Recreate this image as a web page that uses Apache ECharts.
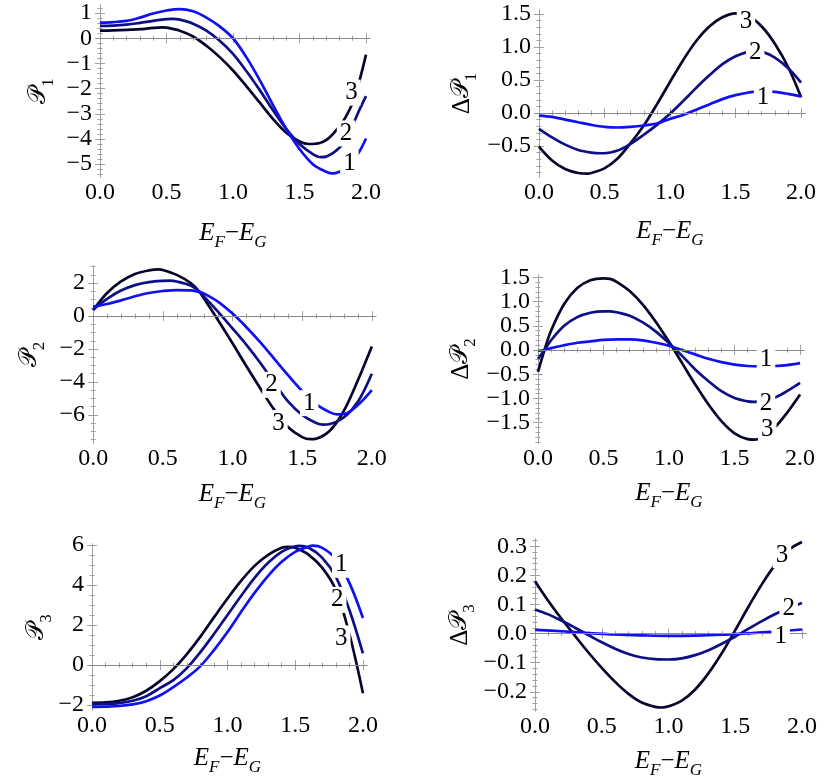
<!DOCTYPE html>
<html><head><meta charset="utf-8">
<script src="https://cdn.jsdelivr.net/npm/echarts@6/dist/echarts.min.js"></script>
<style>html,body{margin:0;padding:0;background:#fff}#c{width:830px;height:782px}</style>
</head><body><div id="c"></div>
<script>
// ---------------- data ----------------
const curveNames = ['1', '2', '3'];
const xTicks = [0, 0.5, 1, 1.5, 2];

// Panel 1 : P1
const P1_c1 = [[0,0.62],[0.1,0.64],[0.2,0.69],[0.3,0.82],[0.4,0.98],[0.5,1.1],[0.6,1.16],[0.7,1.07],[0.8,0.82],[0.9,0.47],[1.0,0.0],[1.1,-0.75],[1.2,-1.65],[1.3,-2.65],[1.4,-3.6],[1.5,-4.4],[1.6,-5.0],[1.7,-5.3],[1.75,-5.37],[1.8,-5.3],[1.85,-5.15],[1.9,-4.85],[1.95,-4.5],[2.0,-3.98]];
const P1_c2 = [[0,0.49],[0.1,0.5],[0.2,0.54],[0.3,0.61],[0.4,0.69],[0.5,0.76],[0.55,0.77],[0.6,0.74],[0.7,0.58],[0.8,0.3],[0.9,-0.1],[1.0,-0.62],[1.1,-1.3],[1.2,-2.05],[1.3,-2.85],[1.4,-3.6],[1.5,-4.2],[1.6,-4.6],[1.66,-4.72],[1.7,-4.7],[1.8,-4.35],[1.85,-3.95],[1.9,-3.45],[1.95,-2.85],[2.0,-2.3]];
const P1_c3 = [[0,0.3],[0.1,0.31],[0.2,0.33],[0.3,0.36],[0.4,0.41],[0.47,0.43],[0.5,0.42],[0.6,0.3],[0.7,0.07],[0.8,-0.3],[0.9,-0.75],[1.0,-1.28],[1.1,-1.9],[1.2,-2.55],[1.3,-3.2],[1.4,-3.75],[1.5,-4.1],[1.57,-4.2],[1.6,-4.2],[1.7,-4.05],[1.8,-3.5],[1.85,-3.1],[1.9,-2.55],[1.95,-1.7],[2.0,-0.65]];
const P1_labels = [[1.875,-4.98],[1.85,-3.78],[1.89,-2.16]];
const P1_yTicks = [1,0,-1,-2,-3,-4,-5];

// Panel 2 : ΔP1
const P2_c1 = [[0,-0.04],[0.1,-0.06],[0.2,-0.1],[0.3,-0.14],[0.4,-0.18],[0.5,-0.21],[0.6,-0.22],[0.7,-0.21],[0.8,-0.19],[0.9,-0.16],[1.0,-0.09],[1.1,-0.03],[1.2,0.05],[1.3,0.13],[1.4,0.21],[1.5,0.27],[1.6,0.31],[1.7,0.33],[1.8,0.32],[1.9,0.29],[2.0,0.25]];
const P2_c2 = [[0,-0.24],[0.1,-0.37],[0.2,-0.48],[0.3,-0.56],[0.4,-0.6],[0.47,-0.61],[0.5,-0.61],[0.6,-0.57],[0.69,-0.48],[0.8,-0.33],[0.9,-0.18],[1.0,-0.01],[1.1,0.18],[1.2,0.38],[1.3,0.57],[1.4,0.74],[1.5,0.86],[1.6,0.93],[1.65,0.94],[1.7,0.93],[1.8,0.84],[1.9,0.68],[2.0,0.46]];
const P2_c3 = [[0,-0.51],[0.1,-0.72],[0.2,-0.85],[0.3,-0.91],[0.37,-0.92],[0.4,-0.91],[0.5,-0.84],[0.6,-0.69],[0.69,-0.48],[0.8,-0.19],[0.9,0.13],[1.0,0.47],[1.1,0.8],[1.2,1.09],[1.3,1.31],[1.4,1.45],[1.5,1.51],[1.6,1.47],[1.7,1.31],[1.8,1.05],[1.9,0.7],[2.0,0.24]];
const P2_labels = [[1.71,0.23],[1.65,0.91],[1.58,1.38]];
const P2_yTicks = [1.5,1.0,0.5,0.0,-0.5];

// Panel 3 : P2
const P3_c1 = [[0,0.57],[0.1,0.73],[0.2,0.95],[0.3,1.2],[0.4,1.4],[0.5,1.52],[0.6,1.58],[0.7,1.56],[0.76,1.47],[0.8,1.35],[0.9,0.85],[1.0,0.15],[1.1,-0.68],[1.2,-1.6],[1.3,-2.6],[1.4,-3.6],[1.5,-4.55],[1.6,-5.35],[1.7,-5.85],[1.75,-5.97],[1.8,-5.95],[1.9,-5.4],[2.0,-4.5]];
const P3_c2 = [[0,0.4],[0.1,1.05],[0.2,1.55],[0.3,1.88],[0.4,2.06],[0.5,2.14],[0.55,2.15],[0.6,2.1],[0.7,1.85],[0.76,1.5],[0.8,1.15],[0.9,0.22],[1.0,-0.75],[1.1,-1.75],[1.2,-2.85],[1.3,-4.05],[1.4,-5.2],[1.5,-6.0],[1.6,-6.5],[1.65,-6.6],[1.7,-6.56],[1.8,-6.15],[1.9,-5.2],[2.0,-3.5]];
const P3_c3 = [[0,0.36],[0.1,1.4],[0.2,2.1],[0.3,2.55],[0.4,2.77],[0.47,2.83],[0.5,2.8],[0.6,2.5],[0.7,2.0],[0.76,1.5],[0.8,1.0],[0.9,-0.3],[1.0,-1.65],[1.1,-3.05],[1.2,-4.4],[1.3,-5.7],[1.4,-6.75],[1.5,-7.35],[1.56,-7.48],[1.6,-7.45],[1.7,-6.95],[1.8,-5.75],[1.9,-3.9],[2.0,-1.85]];
const P3_labels = [[1.55,-5.29],[1.28,-4.18],[1.33,-6.5]];
const P3_yTicks = [2,0,-2,-4,-6];

// Panel 4 : ΔP2
const P4_c1 = [[0,-0.02],[0.05,0.0],[0.1,0.04],[0.2,0.1],[0.3,0.15],[0.4,0.18],[0.5,0.21],[0.6,0.22],[0.7,0.22],[0.8,0.2],[0.9,0.15],[1.0,0.09],[1.1,0.0],[1.2,-0.09],[1.3,-0.18],[1.4,-0.25],[1.5,-0.3],[1.6,-0.33],[1.7,-0.34],[1.8,-0.33],[1.9,-0.31],[2.0,-0.27]];
const P4_c2 = [[0,-0.18],[0.05,0.0],[0.1,0.2],[0.2,0.5],[0.3,0.68],[0.4,0.77],[0.5,0.8],[0.55,0.8],[0.6,0.78],[0.7,0.71],[0.8,0.57],[0.9,0.38],[1.0,0.14],[1.1,-0.12],[1.2,-0.4],[1.3,-0.64],[1.4,-0.85],[1.5,-0.99],[1.6,-1.06],[1.65,-1.07],[1.7,-1.06],[1.8,-0.99],[1.9,-0.85],[2.0,-0.68]];
const P4_c3 = [[0,-0.45],[0.05,0.0],[0.1,0.4],[0.2,0.95],[0.3,1.28],[0.4,1.44],[0.5,1.48],[0.55,1.47],[0.6,1.41],[0.7,1.22],[0.8,0.94],[0.9,0.58],[1.0,0.17],[1.1,-0.27],[1.2,-0.71],[1.3,-1.12],[1.4,-1.47],[1.5,-1.72],[1.6,-1.84],[1.65,-1.85],[1.7,-1.83],[1.8,-1.62],[1.9,-1.3],[2.0,-0.92]];
const P4_labels = [[1.74,-0.19],[1.74,-1.11],[1.75,-1.64]];
const P4_yTicks = [1.5,1.0,0.5,0.0,-0.5,-1.0,-1.5];

// Panel 5 : P3
const P5_c1 = [[0,-2.08],[0.1,-2.07],[0.2,-2.04],[0.3,-1.96],[0.4,-1.8],[0.5,-1.52],[0.6,-1.1],[0.7,-0.62],[0.8,-0.05],[0.9,0.75],[1.0,1.65],[1.1,2.65],[1.2,3.6],[1.3,4.45],[1.4,5.15],[1.5,5.65],[1.6,5.92],[1.63,5.96],[1.7,5.85],[1.8,5.3],[1.9,4.1],[2.0,2.35]];
const P5_c2 = [[0,-1.95],[0.1,-1.94],[0.2,-1.9],[0.3,-1.78],[0.4,-1.55],[0.5,-1.15],[0.6,-0.75],[0.7,-0.15],[0.8,0.65],[0.9,1.55],[1.0,2.5],[1.1,3.45],[1.2,4.35],[1.3,5.1],[1.4,5.65],[1.5,5.93],[1.53,5.95],[1.6,5.85],[1.7,5.35],[1.8,4.4],[1.9,2.75],[2.0,0.58]];
const P5_c3 = [[0,-1.88],[0.1,-1.86],[0.2,-1.78],[0.3,-1.6],[0.4,-1.28],[0.5,-0.8],[0.6,-0.2],[0.7,0.55],[0.8,1.42],[0.9,2.38],[1.0,3.32],[1.1,4.2],[1.2,4.95],[1.3,5.5],[1.4,5.85],[1.45,5.9],[1.5,5.85],[1.6,5.5],[1.7,4.85],[1.8,3.75],[1.9,1.55],[2.0,-1.4]];
const P5_labels = [[1.84,5.0],[1.81,3.25],[1.84,1.33]];
const P5_yTicks = [6,4,2,0,-2];

// Panel 6 : ΔP3
const P6_c1 = [[0,0.013],[0.2,0.008],[0.4,0.002],[0.6,-0.003],[0.8,-0.006],[1.0,-0.008],[1.2,-0.007],[1.4,-0.004],[1.6,0.001],[1.8,0.007],[2.0,0.014]];
const P6_c2 = [[0,0.083],[0.1,0.066],[0.2,0.044],[0.3,0.02],[0.4,-0.005],[0.5,-0.03],[0.6,-0.052],[0.7,-0.07],[0.8,-0.082],[0.9,-0.088],[1.0,-0.089],[1.1,-0.085],[1.2,-0.074],[1.3,-0.057],[1.4,-0.035],[1.5,-0.01],[1.6,0.017],[1.7,0.043],[1.8,0.067],[1.9,0.088],[2.0,0.105]];
const P6_c3 = [[0,0.18],[0.1,0.112],[0.2,0.05],[0.3,-0.008],[0.4,-0.065],[0.5,-0.118],[0.6,-0.166],[0.7,-0.207],[0.8,-0.237],[0.9,-0.252],[0.95,-0.254],[1.0,-0.25],[1.1,-0.23],[1.2,-0.192],[1.3,-0.136],[1.4,-0.067],[1.5,0.012],[1.6,0.093],[1.7,0.17],[1.8,0.237],[1.9,0.288],[2.0,0.315]];
const P6_labels = [[1.84,-0.011],[1.9,0.086],[1.85,0.27]];
const P6_yTicks = [0.3,0.2,0.1,0.0,-0.1,-0.2];

// ---------------- style / layout ----------------
const FONT = '"Liberation Serif", "Times New Roman", serif';
const COLORS = ['#1010f2', '#0e0e86', '#06062e'];
const FRAME = '#a0a0a0';
const XRANGE = [-0.03, 2.03];

const panels = [
  {curves:[P1_c1,P1_c2,P1_c3], labels:P1_labels, yTicks:P1_yTicks, yDec:0, yMinor:0.2, yRange:[-5.51,1.32], delta:false, sub:'1',
   grid:{left:96, top:5, width:274, height:172}, yGap:43, xGap:44},
  {curves:[P2_c1,P2_c2,P2_c3], labels:P2_labels, yTicks:P2_yTicks, yDec:1, yMinor:0.1, yRange:[-0.97,1.56], delta:true, sub:'1',
   grid:{left:535, top:10, width:270, height:167}, yGap:59, xGap:42},
  {curves:[P3_c1,P3_c2,P3_c3], labels:P3_labels, yTicks:P3_yTicks, yDec:0, yMinor:0.5, yRange:[-7.71,3.04], delta:false, sub:'2',
   grid:{left:89, top:266, width:287, height:177}, yGap:45, xGap:39},
  {curves:[P4_c1,P4_c2,P4_c3], labels:P4_labels, yTicks:P4_yTicks, yDec:1, yMinor:0.1, yRange:[-1.92,1.55], delta:true, sub:'2',
   grid:{left:534, top:275, width:270, height:168}, yGap:59, xGap:38},
  {curves:[P5_c1,P5_c2,P5_c3], labels:P5_labels, yTicks:P5_yTicks, yDec:0, yMinor:0.5, yRange:[-2.24,6.04], delta:false, sub:'3',
   grid:{left:88, top:544, width:279, height:166}, yGap:37, xGap:36},
  {curves:[P6_c1,P6_c2,P6_c3], labels:P6_labels, yTicks:P6_yTicks, yDec:1, yMinor:0.02, yRange:[-0.266,0.325], delta:true, sub:'3',
   grid:{left:531, top:539, width:275, height:172}, yGap:57, xGap:38}
];

function minorVals(range, step, majors) {
  const out = [];
  const start = Math.ceil(range[0] / step - 1e-9);
  const end = Math.floor(range[1] / step + 1e-9);
  for (let k = start; k <= end; k++) {
    const v = Math.round(k * step * 1e6) / 1e6;
    if (!majors.some(m => Math.abs(m - v) < 1e-9)) out.push(v);
  }
  return out;
}
function fmt(v, dec) {
  const s = Math.abs(v) < 1e-12 ? (0).toFixed(dec) : v.toFixed(dec);
  return s.replace('-', '\u2212');
}

const rich = {
  i: {fontFamily: FONT, fontStyle: 'italic', fontSize: 25, lineHeight: 26, verticalAlign: 'top', color: '#000'},
  r: {fontFamily: FONT, fontSize: 25, lineHeight: 26, verticalAlign: 'top', color: '#000'},
  p: {fontFamily: '"DejaVu Serif", serif', fontSize: 24, lineHeight: 26, verticalAlign: 'top', color: '#000'},
  s: {fontFamily: FONT, fontStyle: 'italic', fontSize: 17, lineHeight: 17, padding: [13, 0, 0, 0], verticalAlign: 'top', color: '#000'},
  n: {fontFamily: FONT, fontSize: 17, lineHeight: 17, padding: [13, 0, 0, 0], verticalAlign: 'top', color: '#000'}
};

const option = {animation: false, backgroundColor: '#fff', grid: [], xAxis: [], yAxis: [], series: []};

panels.forEach((P, gi) => {
  option.grid.push(Object.assign({containLabel: false}, P.grid));
  const xb = option.xAxis.length, yb = option.yAxis.length;
  const xMinor = minorVals(XRANGE, 0.1, xTicks);
  const yMinor = minorVals(P.yRange, P.yMinor, P.yTicks);
  const line = {show: true, lineStyle: {color: FRAME, width: 1}};
  const tickStyle = {color: FRAME, width: 1};
  const baseX = {gridIndex: gi, type: 'value', min: XRANGE[0], max: XRANGE[1], splitLine: {show: false}};
  const baseY = {gridIndex: gi, type: 'value', min: P.yRange[0], max: P.yRange[1], splitLine: {show: false}};
  // x axes
  option.xAxis.push(Object.assign({}, baseX, {
    position: 'bottom', axisLine: line,
    axisTick: {show: true, inside: true, length: 5, customValues: xTicks, lineStyle: tickStyle},
    axisLabel: {show: true, customValues: xTicks, formatter: v => fmt(v, 1), fontFamily: FONT, fontSize: 24, color: '#000', margin: 4},
    name: '{i|E}{s|F}{r|\u2212}{i|E}{s|G}', nameLocation: 'middle', nameGap: P.xGap,
    nameTextStyle: {rich: rich}
  }));
  option.xAxis.push(Object.assign({}, baseX, {
    position: 'bottom', axisLine: {show: false}, axisLabel: {show: false},
    axisTick: {show: true, inside: true, length: 2.5, customValues: xMinor, lineStyle: tickStyle}
  }));
  option.xAxis.push(Object.assign({}, baseX, {
    position: 'top', axisLine: line, axisLabel: {show: false},
    axisTick: {show: true, inside: true, length: 5, customValues: xTicks, lineStyle: tickStyle}
  }));
  option.xAxis.push(Object.assign({}, baseX, {
    position: 'top', axisLine: {show: false}, axisLabel: {show: false},
    axisTick: {show: true, inside: true, length: 2.5, customValues: xMinor, lineStyle: tickStyle}
  }));
  // y axes
  option.yAxis.push(Object.assign({}, baseY, {
    position: 'left', axisLine: line,
    axisTick: {show: true, inside: true, length: 5, customValues: P.yTicks, lineStyle: tickStyle},
    axisLabel: {show: true, customValues: P.yTicks, formatter: v => fmt(v, P.yDec), fontFamily: FONT, fontSize: 24, color: '#000', margin: 4},
    name: (P.delta ? '{r|\u0394}' : '') + '{p|\uD835\uDCAB}{n|' + P.sub + '}',
    nameLocation: 'middle', nameGap: P.yGap, nameRotate: 90,
    nameTextStyle: {rich: rich}
  }));
  option.yAxis.push(Object.assign({}, baseY, {
    position: 'left', axisLine: {show: false}, axisLabel: {show: false},
    axisTick: {show: true, inside: true, length: 2.5, customValues: yMinor, lineStyle: tickStyle}
  }));
  option.yAxis.push(Object.assign({}, baseY, {
    position: 'right', axisLine: line, axisLabel: {show: false},
    axisTick: {show: true, inside: true, length: 5, customValues: P.yTicks, lineStyle: tickStyle}
  }));
  option.yAxis.push(Object.assign({}, baseY, {
    position: 'right', axisLine: {show: false}, axisLabel: {show: false},
    axisTick: {show: true, inside: true, length: 2.5, customValues: yMinor, lineStyle: tickStyle}
  }));
  // zero line
  option.series.push({
    type: 'line', xAxisIndex: xb, yAxisIndex: yb, data: [], z: 1, silent: true,
    markLine: {silent: true, symbol: ['none', 'none'], label: {show: false},
      lineStyle: {color: '#8a8a8a', width: 1, type: 'solid'}, data: [{yAxis: 0}], animation: false}
  });
  // curves
  P.curves.forEach((c, k) => {
    option.series.push({
      name: 'P' + (gi + 1) + '_' + curveNames[k], type: 'line', xAxisIndex: xb, yAxisIndex: yb,
      data: c, smooth: 0.35, showSymbol: false, symbol: 'none', z: 2 + (2 - k) * 0.01,
      lineStyle: {color: COLORS[k], width: 2.7}, itemStyle: {color: COLORS[k]}
    });
  });
  // curve labels
  option.series.push({
    type: 'scatter', xAxisIndex: xb, yAxisIndex: yb, z: 10, symbolSize: 1, silent: true,
    itemStyle: {color: '#ffffff', opacity: 0},
    data: P.labels.map((p, k) => [p[0], p[1], curveNames[k]]),
    label: {show: true, position: 'inside', formatter: q => q.data[2], opacity: 1,
      fontFamily: FONT, fontSize: 25, color: '#000000', textBorderWidth: 0, textBorderColor: 'transparent',
      textShadowBlur: 0, backgroundColor: '#ffffff', padding: [1, 3, 0, 3]}
  });
});

const chart = echarts.init(document.getElementById('c'), null, {renderer: 'canvas'});
chart.setOption(option);
</script>
</body></html>
